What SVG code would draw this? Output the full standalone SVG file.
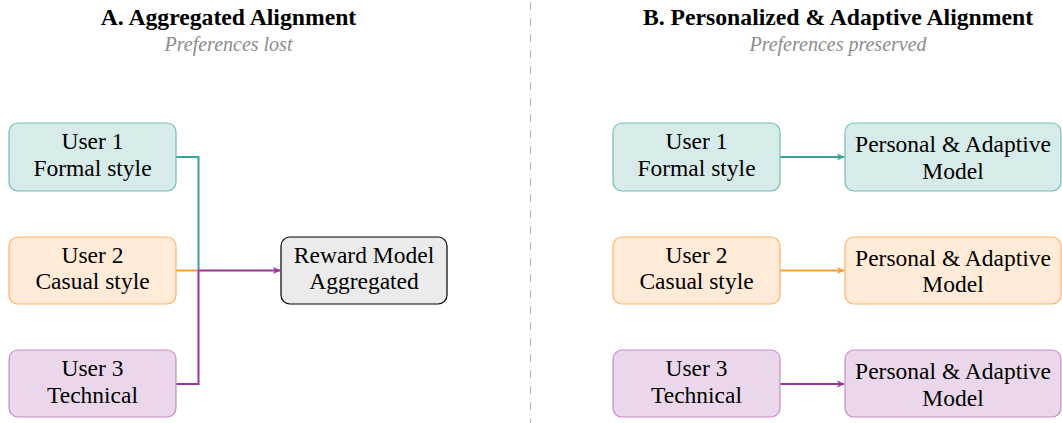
<svg xmlns="http://www.w3.org/2000/svg" width="1062" height="423" viewBox="0 0 1062 423">
<defs>
<style>
text{font-family:"Liberation Serif","Times New Roman",serif;fill:#000;text-anchor:middle}
.title{font-size:23.7px;font-weight:bold}
.sub{font-size:20px;font-style:italic;fill:#8c8c8c}
.lbl{font-size:23.5px}
.teal{fill:#d7ebea;stroke:#73bdb7;stroke-width:1.2}
.orange{fill:#ffebd7;stroke:#ffb366;stroke-width:1.2}
.purple{fill:#ebd7eb;stroke:#c98ac9;stroke-width:1.2}
.gray{fill:#ebebeb;stroke:#000;stroke-width:1.2}
.c{fill:none;stroke-width:2}
.ct{stroke:#37a39c}
.co{stroke:#ff9d3a}
.cp{stroke:#9c349c}
</style>
<marker id="at" viewBox="0 0 10 10" refX="9" refY="5" markerWidth="9" markerHeight="8" orient="auto" markerUnits="userSpaceOnUse"><path d="M0,0.5 L10,5 L0,9.5 L3,5 Z" fill="#37a39c"/></marker>
<marker id="ao" viewBox="0 0 10 10" refX="9" refY="5" markerWidth="9" markerHeight="8" orient="auto" markerUnits="userSpaceOnUse"><path d="M0,0.5 L10,5 L0,9.5 L3,5 Z" fill="#ff9d3a"/></marker>
<marker id="ap" viewBox="0 0 10 10" refX="9" refY="5" markerWidth="9" markerHeight="8" orient="auto" markerUnits="userSpaceOnUse"><path d="M0,0.5 L10,5 L0,9.5 L3,5 Z" fill="#9c349c"/></marker>
</defs>
<rect width="1062" height="423" fill="#fff"/>

<g id="headers">
<text class="title" x="228.5" y="25">A. Aggregated Alignment</text>
<text class="sub" x="228.5" y="51">Preferences lost</text>
<text class="title" x="838" y="25">B. Personalized &amp; Adaptive Alignment</text>
<text class="sub" x="838" y="51">Preferences preserved</text>
<line x1="530.5" y1="2" x2="530.5" y2="423" stroke="#b0b0b0" stroke-width="1" stroke-dasharray="8 8"/>
</g>

<g id="connectors">
<path class="c ct" d="M176,157 H198.5 V270.5"/>
<path class="c co" d="M176,270.5 H198.5"/>
<path class="c cp" d="M176,384 H198.5 V270.5 H280" marker-end="url(#ap)"/>
<path class="c ct" d="M780,157 H844" marker-end="url(#at)"/>
<path class="c co" d="M780,270.5 H844" marker-end="url(#ao)"/>
<path class="c cp" d="M780,384 H844" marker-end="url(#ap)"/>
</g>

<g id="a_user1"><rect class="teal" x="9" y="123" width="167" height="68" rx="9"/><text class="lbl" x="92.5" y="149">User 1</text><text class="lbl" x="92.5" y="176">Formal style</text></g>
<g id="a_user2"><rect class="orange" x="9" y="237" width="167" height="67" rx="9"/><text class="lbl" x="92.5" y="262.5">User 2</text><text class="lbl" x="92.5" y="289">Casual style</text></g>
<g id="a_user3"><rect class="purple" x="9" y="350" width="167" height="67" rx="9"/><text class="lbl" x="92.5" y="376">User 3</text><text class="lbl" x="92.5" y="403">Technical</text></g>
<g id="a_reward"><rect class="gray" x="281" y="237" width="166" height="67" rx="9"/><text class="lbl" x="364" y="263">Reward Model</text><text class="lbl" x="364" y="288.5">Aggregated</text></g>

<g id="b_user1"><rect class="teal" x="613" y="123" width="167" height="68" rx="9"/><text class="lbl" x="696.5" y="149">User 1</text><text class="lbl" x="696.5" y="176">Formal style</text></g>
<g id="b_user2"><rect class="orange" x="613" y="237" width="167" height="67" rx="9"/><text class="lbl" x="696.5" y="262.5">User 2</text><text class="lbl" x="696.5" y="289">Casual style</text></g>
<g id="b_user3"><rect class="purple" x="613" y="350" width="167" height="67" rx="9"/><text class="lbl" x="696.5" y="376">User 3</text><text class="lbl" x="696.5" y="403">Technical</text></g>
<g id="b_model1"><rect class="teal" x="845" y="123" width="216" height="68" rx="9"/><text class="lbl" x="953" y="152">Personal &amp; Adaptive</text><text class="lbl" x="953" y="178.5">Model</text></g>
<g id="b_model2"><rect class="orange" x="845" y="237" width="216" height="67" rx="9"/><text class="lbl" x="953" y="265.5">Personal &amp; Adaptive</text><text class="lbl" x="953" y="292">Model</text></g>
<g id="b_model3"><rect class="purple" x="845" y="350" width="216" height="67" rx="9"/><text class="lbl" x="953" y="379">Personal &amp; Adaptive</text><text class="lbl" x="953" y="405.5">Model</text></g>
</svg>
